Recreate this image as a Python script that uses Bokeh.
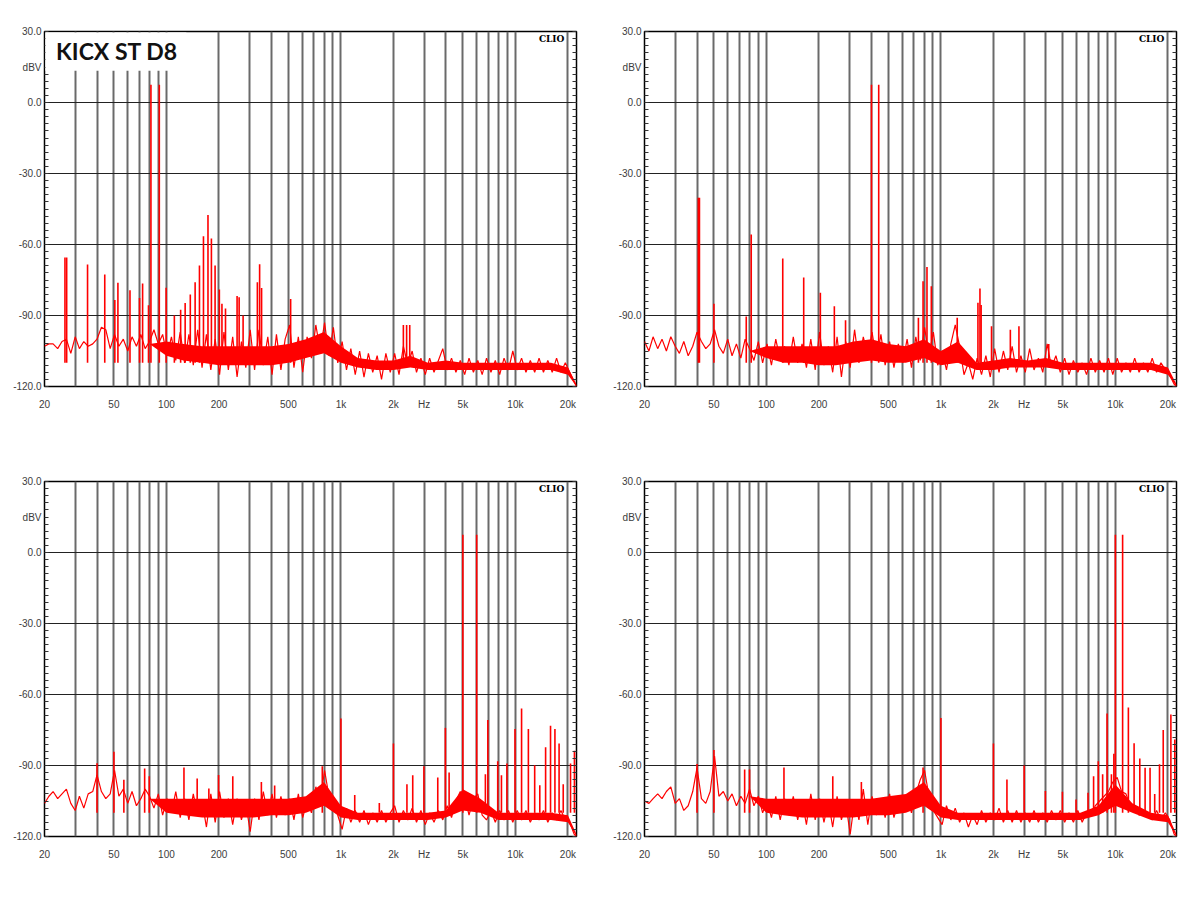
from bokeh.plotting import figure
from bokeh.layouts import column, row
from bokeh.models import FixedTicker, LinearAxis, Range1d, BoxAnnotation, Label
from bokeh.embed import file_html
from bokeh.resources import INLINE

# ---------------- data ----------------
TITLE = "KICX ST D8"
X_TICKS = [20, 50, 100, 200, 500, 1000, 2000, 3000, 5000, 10000, 20000]
X_LABELS = ["20", "50", "100", "200", "500", "1k", "2k", "Hz", "5k", "10k", "20k"]
X_GRID = [30, 40, 50, 60, 70, 80, 90, 100, 200, 300, 400, 500, 600, 700, 800, 900,
          1000, 2000, 3000, 4000, 5000, 6000, 7000, 8000, 9000, 10000, 20000]
Y_GRID = [-90, -60, -30, 0]
Y_LABELS = {-120: "-120.0", -90: "-90.0", -60: "-60.0", -30: "-30.0", 0: "0.0", 15: "dBV", 30: "30.0"}

# noise trace frequencies (Hz)
F = [20, 21.2, 22.4, 23.8, 25.2, 26.7, 28.3, 30, 31.7, 33.6, 35.6, 37.8,
     40, 42.4, 44.9, 47.6, 50.4, 53.4, 56.6, 60, 63.5, 67.3, 71.3, 75.5,
     80, 84.8, 89.8, 95.1, 100.8, 106.8, 113.1, 119.9, 127, 134.5, 142.5, 151,
     160, 169.5, 179.6, 190.3, 201.6, 213.6, 226.3, 239.7, 254, 269, 285, 302,
     320, 339, 359, 381, 403, 427, 453, 479, 508, 538, 570, 604,
     640, 678, 718, 761, 806, 854, 905, 959, 1016, 1076, 1140, 1208,
     1280, 1356, 1437, 1522, 1613, 1709, 1810, 1918, 2032, 2153, 2281, 2416,
     2560, 2712, 2874, 3044, 3225, 3417, 3620, 3836, 4064, 4305, 4561, 4833,
     5120, 5424, 5747, 6089, 6451, 6834, 7241, 7671, 8127, 8611, 9123, 9665,
     10240, 10849, 11494, 12177, 12901, 13669, 14482, 15343, 16255, 17222, 18246, 19331,
     20480, 21698, 22400]

# dense noise core frequencies (Hz)
FB = [20, 25, 31.5, 40, 50, 63, 80, 100, 125, 160, 200, 250, 315, 400, 500, 630,
      800, 1000, 1250, 1600, 2000, 2500, 3150, 4000, 5000, 6300, 8000, 10000,
      12500, 16000, 20000, 22400]

# ---- panel 1 (top left) ----
p1_db = [-103, -102, -102, -104, -101, -100, -106, -99, -104, -101, -103, -102,
         -100, -95, -96, -104, -98, -103, -100, -105, -99, -103, -98, -104,
         -101, -96, -102, -98, -107, -99, -109, -97, -110, -98, -111, -96,
         -112, -98, -113, -100, -115, -97, -113, -99, -116, -101, -112, -96,
         -113, -96, -111, -99, -115, -98, -113, -100, -94, -112, -99, -114,
         -99, -108, -94, -105, -93, -107, -95, -110, -101, -113, -104, -115,
         -105, -116, -106, -114, -107, -117, -106, -114, -106, -115, -103, -111,
         -105, -114, -108, -115, -108, -114, -109, -104, -113, -108, -114, -109,
         -115, -108, -114, -109, -115, -108, -114, -109, -115, -108, -113, -105,
         -113, -108, -114, -109, -114, -108, -114, -109, -114, -108, -114, -110,
         -114, -118, -120]
p1_lo = [-103, -103, -103, -100, -101, -102, -102, -107, -109, -110, -111, -111, -111, -111, -110, -108,
         -106, -110, -112, -113, -113, -112, -113, -113, -113, -113, -113, -113, -113, -113, -115, -120]
p1_hi = [-103, -103, -103, -100, -101, -102, -102, -101, -102, -103, -103, -103, -103, -103, -102, -100,
         -97, -103, -108, -109, -109, -107, -110, -109, -110, -110, -110, -110, -110, -110, -112, -119]
p1_sf = [26.2, 26.8, 35.3, 44.3, 50.6, 52.7, 61.8, 70.1, 73.0, 78.9, 81.5, 91, 99.6, 111, 120.6,
         128, 137, 146, 154.6, 163, 173, 181, 190, 201, 208, 218, 254, 261, 275, 332, 342, 351,
         515, 2280, 2380, 2480]
p1_sdb = [-65.5, -65.5, -68.5, -72.7, -83.5, -76.2, -79.3, -82.6, -76.5, -85.7, 7.5, 7.5, -78.3, -90,
          -87.6, -84.7, -81.1, -76, -68.9, -56.5, -47.5, -57.5, -68.9, -79, -85, -87, -81.8, -82.3,
          -90, -76, -68.3, -78.4, -83, -94, -94, -94]

# ---- panel 2 (top right) ----
p2_db = [-101, -105, -99, -104, -100, -105, -99, -103, -106, -101, -107, -103,
         -97, -101, -104, -102, -96, -103, -106, -100, -107, -102, -108, -100,
         -104, -109, -101, -110, -102, -111, -100, -109, -103, -111, -99, -110,
         -102, -112, -100, -113, -97, -111, -103, -114, -99, -116, -101, -112,
         -96, -110, -99, -107, -97, -109, -98, -111, -101, -112, -102, -110,
         -100, -112, -99, -109, -95, -107, -97, -111, -105, -113, -102, -94,
         -103, -115, -110, -117, -108, -115, -107, -116, -104, -114, -105, -113,
         -103, -114, -107, -114, -104, -113, -108, -114, -102, -112, -107, -114,
         -108, -115, -109, -114, -110, -115, -108, -114, -109, -114, -108, -115,
         -108, -114, -110, -114, -108, -114, -110, -114, -108, -114, -110, -113,
         -115, -119, -120]
p2_lo = [-102, -102, -103, -100, -101, -104, -105, -108, -110, -110, -111, -111, -110, -109, -110, -110,
         -108, -111, -110, -113, -113, -112, -112, -112, -113, -113, -113, -113, -113, -113, -115, -120]
p2_hi = [-102, -102, -103, -100, -101, -104, -105, -103, -103, -103, -103, -103, -101, -100, -102, -103,
         -100, -105, -101, -110, -109, -108, -109, -108, -110, -110, -110, -110, -110, -110, -112, -119]
p2_sf = [40.7, 41.3, 50, 76.6, 81.8, 124, 163.5, 203.7, 245, 284, 400, 440, 743, 790, 832, 881,
         1240, 1630, 1674, 1700, 1950, 2500, 2800, 4150]
p2_sdb = [-40.2, -40.2, -85, -90.4, -55.8, -65.9, -73.9, -80.4, -86.1, -92, 7.5, 7.5, -91, -75.5,
          -69.5, -77.6, -91, -84.6, -78.6, -85.6, -94.5, -96, -94.5, -102]

# ---- panel 3 (bottom left) ----
p3_db = [-106, -103, -101, -104, -102, -100, -106, -109, -103, -108, -102, -101,
         -94, -101, -104, -102, -92, -103, -100, -106, -101, -107, -104, -100,
         -103, -108, -102, -111, -104, -110, -101, -112, -104, -113, -102, -111,
         -105, -116, -102, -114, -101, -112, -104, -115, -104, -113, -106, -118,
         -104, -113, -101, -111, -102, -112, -103, -111, -104, -113, -102, -112,
         -105, -110, -99, -105, -92, -103, -104, -111, -117, -108, -114, -109,
         -114, -109, -115, -110, -114, -109, -114, -110, -107, -114, -109, -113,
         -108, -114, -109, -115, -110, -114, -109, -113, -107, -112, -105, -101,
         -103, -111, -104, -102, -111, -113, -109, -114, -109, -113, -109, -114,
         -109, -113, -109, -114, -110, -113, -109, -114, -110, -113, -109, -113,
         -114, -119, -120]
p3_lo = [-104, -103, -104, -100, -100, -104, -104, -110, -111, -112, -112, -112, -112, -111, -111, -110,
         -107, -112, -113, -113, -113, -113, -113, -112, -109, -110, -113, -113, -113, -113, -114, -120]
p3_hi = [-104, -103, -104, -100, -100, -104, -104, -104, -104, -104, -104, -104, -104, -104, -104, -103,
         -97, -107, -110, -110, -110, -110, -110, -109, -100, -104, -110, -110, -110, -110, -111, -119]
p3_sf = [40, 50, 57, 75, 79.7, 126, 150, 175, 199, 240, 350, 417, 782, 1000, 1200, 1660, 2000,
         2390, 2580, 2990, 3590, 3970, 4170, 5000, 6000, 6730, 6950, 7920, 8320, 8940, 9950,
         10850, 11870, 12900, 13800, 14900, 15900, 16850, 17800, 18800, 20700, 21800]
p3_sdb = [-89, -84.2, -96, -91.3, -94.5, -90.8, -95.5, -99.7, -94, -94.5, -97, -98.4, -90.3, -70.1,
          -102.5, -105.8, -80.7, -97.9, -94.1, -90.3, -95.1, -74.1, -93, 7.5, 7.5, -93.7, -70.8,
          -88.2, -94.1, -89.2, -74.6, -65.9, -74.6, -89.9, -98.3, -82.3, -73.2, -74.6, -80.7,
          -97.9, -89.2, -83.8]

# ---- panel 4 (bottom right) ----
p4_db = [-105, -106, -104, -102, -104, -101, -99, -106, -104, -109, -107, -101,
         -91, -104, -106, -101, -86, -103, -101, -105, -102, -107, -103, -106,
         -100, -107, -103, -110, -105, -112, -103, -113, -104, -111, -103, -113,
         -105, -115, -102, -113, -104, -114, -105, -116, -103, -113, -106, -119,
         -105, -113, -100, -115, -103, -111, -104, -112, -102, -112, -105, -110,
         -103, -110, -102, -96, -92, -103, -109, -112, -115, -107, -113, -108,
         -114, -110, -116, -111, -115, -109, -114, -110, -113, -108, -114, -109,
         -114, -109, -114, -110, -114, -109, -114, -110, -114, -109, -113, -109,
         -114, -110, -114, -109, -114, -110, -111, -107, -105, -103, -101, -97,
         -95, -101, -102, -107, -107, -111, -110, -111, -113, -109, -113, -110,
         -113, -119, -120]
p4_lo = [-104, -103, -104, -100, -100, -104, -103, -110, -111, -112, -112, -112, -112, -111, -111, -110,
         -107, -112, -113, -113, -113, -113, -113, -113, -113, -113, -111, -107, -110, -113, -114, -120]
p4_hi = [-104, -103, -104, -100, -100, -104, -103, -104, -104, -104, -104, -104, -104, -104, -103, -102,
         -97, -107, -110, -110, -110, -110, -110, -110, -110, -110, -107, -98, -106, -110, -111, -119]
p4_sf = [40, 50, 75, 80, 126, 240, 350, 790, 1000, 2000, 2390, 3000, 3970, 4970, 5950, 6970, 7500,
         7980, 8450, 8960, 9490, 9800, 10000, 11000, 11870, 12800, 13800, 14800, 15800, 16800,
         17900, 18800, 20800, 21900]
p4_sdb = [-89.4, -83.5, -91.7, -91.7, -90.8, -94.5, -97, -90.8, -69.9, -80.7, -95.9, -90, -100.8,
          -101.1, -104.4, -101.5, -94.5, -88.2, -93.7, -68, -93.7, -85, 7.5, 7.5, -65.5, -80.6,
          -87, -91, -91, -102, -89.5, -75, -68.5, -79]

for a, b in [(p1_db, F), (p2_db, F), (p3_db, F), (p4_db, F), (p1_lo, FB), (p1_hi, FB), (p2_lo, FB),
             (p2_hi, FB), (p3_lo, FB), (p3_hi, FB), (p4_lo, FB), (p4_hi, FB)]:
    assert len(a) == len(b), (len(a), len(b))
assert len(p1_sf) == len(p1_sdb) and len(p2_sf) == len(p2_sdb)
assert len(p3_sf) == len(p3_sdb) and len(p4_sf) == len(p4_sdb)

# ---------------- styling ----------------
RED = "#ff0000"
LABEL_FONT = "Liberation Sans"
LABEL_COLOR = "#3c3c3c"
SPIKE_BASE = -110


def make_panel(db, lo, hi, sf, sdb, title=None):
    p = figure(x_axis_type="log", x_range=Range1d(20, 22400), y_range=Range1d(-120, 30),
               frame_width=532, frame_height=355,
               min_border_left=44, min_border_right=24, min_border_top=31, min_border_bottom=64,
               output_backend="svg", toolbar_location=None,
               background_fill_color="white", border_fill_color="white")
    p.outline_line_color = "black"
    p.outline_line_width = 1.5

    # grids
    p.xgrid.ticker = FixedTicker(ticks=X_GRID)
    p.xgrid.grid_line_color = "#6a6a6a"
    p.xgrid.grid_line_width = 2
    p.ygrid.ticker = FixedTicker(ticks=Y_GRID)
    p.ygrid.grid_line_color = "#222222"
    p.ygrid.grid_line_width = 1.2

    # x axis
    xa = p.xaxis[0]
    xa.ticker = FixedTicker(ticks=X_TICKS)
    xa.major_label_overrides = {t: l for t, l in zip(X_TICKS, X_LABELS)}
    xa.axis_line_color = None
    xa.major_tick_line_color = None
    xa.minor_tick_line_color = None
    xa.major_label_standoff = 6
    xa.major_label_text_font = LABEL_FONT
    xa.major_label_text_font_size = "10px"
    xa.major_label_text_color = LABEL_COLOR

    # y axis with inner 3 dB ticks
    yticks = list(range(-120, 31, 3))
    ya = p.yaxis[0]
    ya.ticker = FixedTicker(ticks=yticks)
    ya.major_label_overrides = {t: Y_LABELS.get(t, "") for t in yticks}
    ya.axis_line_color = None
    ya.major_tick_in = 4
    ya.major_tick_out = 0
    ya.major_tick_line_color = "#333333"
    ya.minor_tick_line_color = None
    ya.major_label_standoff = 3
    ya.major_label_text_font = LABEL_FONT
    ya.major_label_text_font_size = "10px"
    ya.major_label_text_color = LABEL_COLOR

    ra = LinearAxis(ticker=FixedTicker(ticks=yticks),
                    major_label_overrides={t: "" for t in yticks},
                    axis_line_color=None, major_tick_in=4, major_tick_out=0,
                    major_tick_line_color="#333333", minor_tick_line_color=None,
                    major_label_text_font_size="1px", major_label_standoff=0)
    p.add_layout(ra, "right")

    # data
    p.varea(x=FB, y1=lo, y2=hi, color=RED)
    p.line(F, db, line_color=RED, line_width=1.2)
    p.segment(x0=sf, x1=sf, y0=[SPIKE_BASE] * len(sf), y1=sdb, line_color=RED, line_width=1.6)

    p.add_layout(Label(x=19100, y=26.9, text="CLIO", text_align="right", text_baseline="middle",
                       text_font="DejaVu Serif", text_font_style="bold", text_font_size="9px",
                       text_color="black"))
    if title:
        p.add_layout(BoxAnnotation(left=20.25, right=130, bottom=13.4, top=29.6,
                                   fill_color="white", fill_alpha=1, line_color=None))
        p.add_layout(Label(x=23.3, y=21.6, text=title, text_baseline="middle",
                           text_font="Lato", text_font_style="bold", text_font_size="23px",
                           text_color="#111111"))
    return p


p1 = make_panel(p1_db, p1_lo, p1_hi, p1_sf, p1_sdb, TITLE)
p2 = make_panel(p2_db, p2_lo, p2_hi, p2_sf, p2_sdb)
p3 = make_panel(p3_db, p3_lo, p3_hi, p3_sf, p3_sdb)
p4 = make_panel(p4_db, p4_lo, p4_hi, p4_sf, p4_sdb)

layout = column(row(p1, p2), row(p3, p4))
open("out.html", "w").write(file_html(layout, INLINE))
